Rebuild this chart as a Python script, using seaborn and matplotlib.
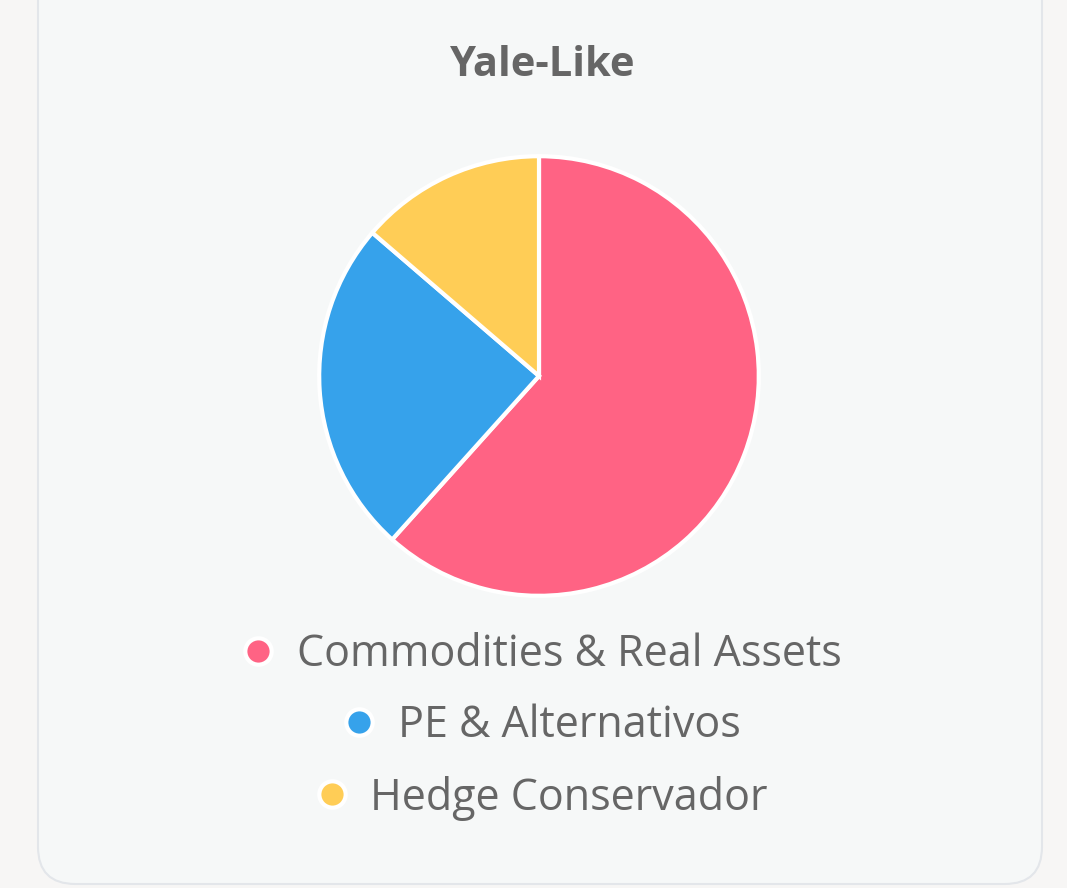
import matplotlib
matplotlib.use('Agg')
import matplotlib.pyplot as plt
import seaborn as sns
from matplotlib.lines import Line2D
from matplotlib.patches import FancyBboxPatch

# data
labels = ['Commodities & Real Assets', 'PE & Alternativos', 'Hedge Conservador']
values = [45, 18, 10]
colors = ['#ff6384', '#36a2eb', '#ffcd56']
title = 'Yale-Like'

sns.set_theme(style='white')
plt.rcParams['font.family'] = ['Open Sans', 'DejaVu Sans']

W, H = 1067, 888
fig = plt.figure(figsize=(W / 100, H / 100), dpi=100)
fig.patch.set_facecolor('#f7f6f5')

# card behind everything
card = FancyBboxPatch((38 / W, 1 - 884 / H), (1042 - 38) / W, 940 / H,
                      boxstyle='round,pad=0,rounding_size=0.035',
                      transform=fig.transFigure, facecolor='#f6f8f8',
                      edgecolor='#e3e6ea', linewidth=1.5, mutation_aspect=W / H,
                      zorder=-10)
fig.patches.append(card)

fig.text(543 / W, 1 - 66 / H, title, ha='center', va='center',
         fontsize=30, fontweight='bold', color='#666666')

# pie axes, centre at (539, 376) px, radius ~221 px
cx, cy, r = 539, 376, 222
ax = fig.add_axes([(cx - r) / W, 1 - (cy + r) / H, 2 * r / W, 2 * r / H])
ax.pie(values, colors=colors, startangle=90, counterclock=False, radius=1,
       wedgeprops=dict(edgecolor='white', linewidth=3))
ax.set_xlim(-1.01, 1.01)
ax.set_ylim(-1.01, 1.01)
ax.set_aspect('equal')
ax.axis('off')

# one centred legend row per category
row_y = [655, 726, 798]
for lab, col, y in zip(labels, colors, row_y):
    h = Line2D([], [], linestyle='none', marker='o', markersize=19,
               markerfacecolor=col, markeredgecolor='white', markeredgewidth=3)
    leg = fig.legend([h], [lab], loc='center', bbox_to_anchor=(540 / W, 1 - y / H),
                     frameon=False, fontsize=31, handlelength=0.9,
                     handletextpad=0.45, borderpad=0, borderaxespad=0)
    for t in leg.get_texts():
        t.set_color('#666666')

fig.savefig('out.png', dpi=100, facecolor=fig.get_facecolor())
